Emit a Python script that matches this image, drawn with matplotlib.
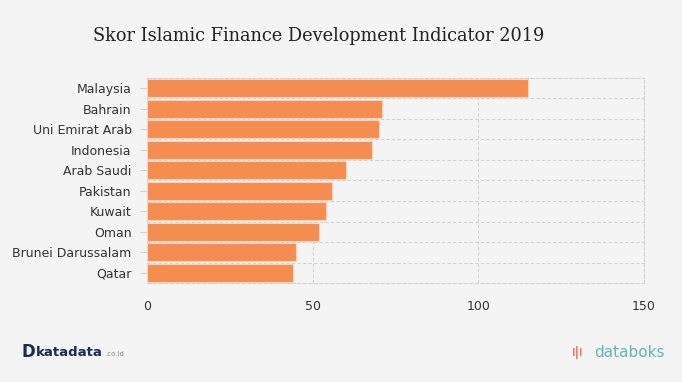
import matplotlib.pyplot as plt

# data
negara = ['Malaysia', 'Bahrain', 'Uni Emirat Arab', 'Indonesia', 'Arab Saudi',
          'Pakistan', 'Kuwait', 'Oman', 'Brunei Darussalam', 'Qatar']
skor = [115, 71, 70, 68, 60, 56, 54, 52, 45, 44]
x_ticks = [0, 50, 100, 150]

bg = '#f4f4f4'
grid_c = '#d2d2d2'
dash = (0, (3, 2))

fig = plt.figure(figsize=(6.82, 3.82), dpi=100, facecolor=bg)
ax = fig.add_axes([0.2155, 0.259, 0.7285, 0.537], facecolor=bg)

pos = list(range(len(negara)))[::-1]
ax.barh(pos, skor, height=0.86, color='#f58d50', edgecolor='#fbd3bb', linewidth=0.8, zorder=3)

ax.set_xlim(0, 150)
ax.set_ylim(-0.5, len(negara) - 0.5)
ax.set_xticks(x_ticks)
ax.set_yticks(pos)
ax.set_yticklabels(negara)

# kisi putus-putus
ax.xaxis.grid(True, color=grid_c, linestyle=dash, linewidth=0.8, zorder=0)
ax.set_yticks([p + 0.5 for p in range(len(negara) - 1)], minor=True)
ax.yaxis.grid(True, which='minor', color=grid_c, linestyle=dash, linewidth=0.8)
ax.tick_params(axis='y', which='minor', length=0)

for side in ['top', 'right', 'bottom', 'left']:
    ax.spines[side].set_color(grid_c)
    ax.spines[side].set_linestyle(dash)
    ax.spines[side].set_linewidth(0.8)

ax.tick_params(axis='y', which='major', length=5, color='#cccccc', labelsize=9, labelcolor='#333333', pad=6)
ax.tick_params(axis='x', length=0, labelsize=9, labelcolor='#333333', pad=12)

fig.text(0.468, 0.905, 'Skor Islamic Finance Development Indicator 2019',
         ha='center', va='center', fontsize=12.8, family='DejaVu Serif', color='#222222')

# footer
fig.text(0.031, 0.078, 'D', fontsize=12, fontweight='bold', color='#1b2a5e', va='center')
fig.text(0.053, 0.078, 'katadata', fontsize=9.5, fontweight='bold', color='#1b2a5e', va='center')
fig.text(0.155, 0.072, '.co.id', fontsize=5, color='#888888', va='center')
fig.text(0.838, 0.078, 'ıǀı', fontsize=10, color='#e8603c', va='center')
fig.text(0.975, 0.078, 'databoks', fontsize=11, color='#5fb7b7', va='center', ha='right')

plt.savefig('out.png', dpi=100, facecolor=bg)
